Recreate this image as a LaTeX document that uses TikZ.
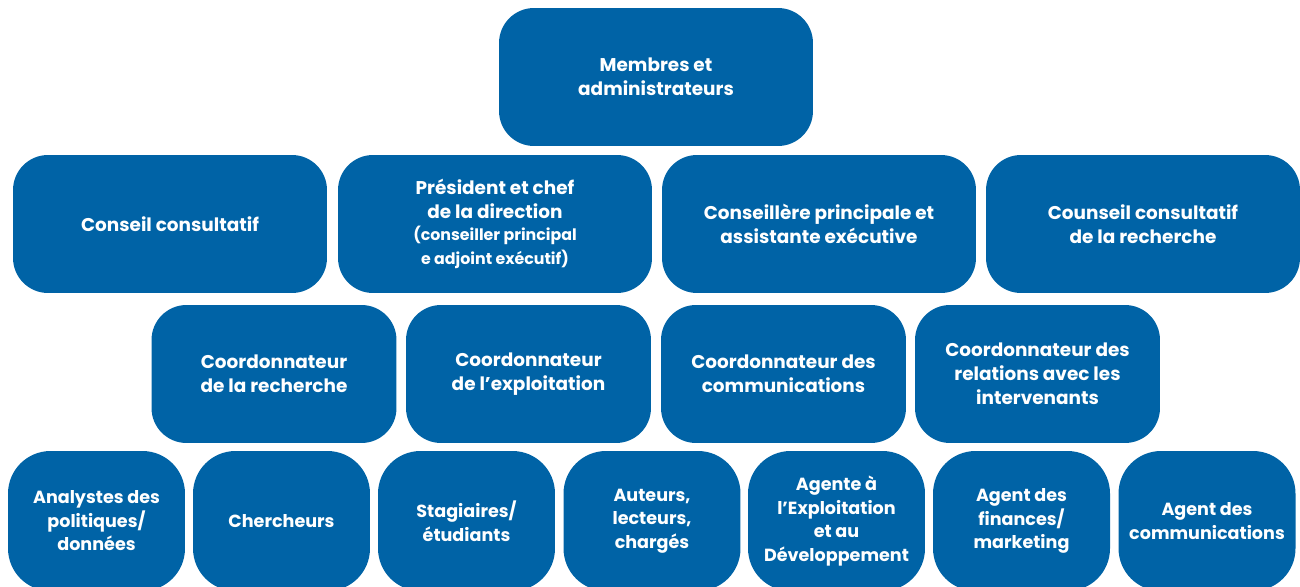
\documentclass[tikz,border=0pt]{standalone}
\usepackage{fontspec}
\setmainfont{Poppins}
\definecolor{orgblue}{HTML}{0063A6}
\tikzset{
  box/.style={fill=orgblue, text=white, align=center, inner sep=0pt,
    font=\bfseries\fontsize{10.5}{13.6}\selectfont},
  bigbox/.style={box, minimum width=6.28cm, minimum height=2.76cm, rounded corners=0.7cm},
  midbox/.style={box, minimum width=4.9cm, minimum height=2.76cm, rounded corners=0.7cm},
  smallbox/.style={box, minimum width=3.54cm, minimum height=2.8cm, rounded corners=0.85cm,
    font=\bfseries\fontsize{10}{13.4}\selectfont}
}
\newcommand{\smalltxt}[1]{{\fontsize{9}{12}\selectfont #1}}

\begin{document}
\begin{tikzpicture}[x=0.02cm,y=-0.02cm]
\useasboundingbox (0,0) rectangle (1300,587);
% top
\node[bigbox] (membres) at (656,77) {Membres et\\administrateurs};
% second row
\node[bigbox] (conseil) at (170,224) {Conseil consultatif};
\node[bigbox] (president) at (495,224) {Président et chef\\de la direction\\[-1pt]
  \smalltxt{(conseiller principal}\\\smalltxt{e adjoint exécutif)}};
\node[bigbox] (conseillere) at (819,224) {Conseillère principale et\\assistante exécutive};
\node[bigbox] (recherche) at (1143,224) {Counseil consultatif\\de la recherche};
% third row
\node[midbox] (coordrech) at (274,374) {Coordonnateur\\de la recherche};
\node[midbox] (coordexpl) at (528.5,374) {Coordonnateur\\de l’exploitation};
\node[midbox] (coordcomm) at (783.5,374) {Coordonnateur des\\communications};
\node[midbox] (coordrel) at (1037.5,374) {Coordonnateur des\\relations avec les\\intervenants};
% bottom row
\node[smallbox] (analystes) at (96.5,521) {Analystes des\\politiques/\\données};
\node[smallbox] (chercheurs) at (281.5,521) {Chercheurs};
\node[smallbox] (stagiaires) at (466.5,521) {Stagiaires/\\étudiants};
\node[smallbox] (auteurs) at (652,521) {Auteurs,\\lecteurs,\\chargés};
\node[smallbox] (agente) at (836.5,521) {Agente à\\l’Exploitation\\et au\\Développement};
\node[smallbox] (finances) at (1021.5,521) {Agent des\\finances/\\marketing};
\node[smallbox] (agentcomm) at (1207,521) {Agent des\\communications};
\end{tikzpicture}
\end{document}
